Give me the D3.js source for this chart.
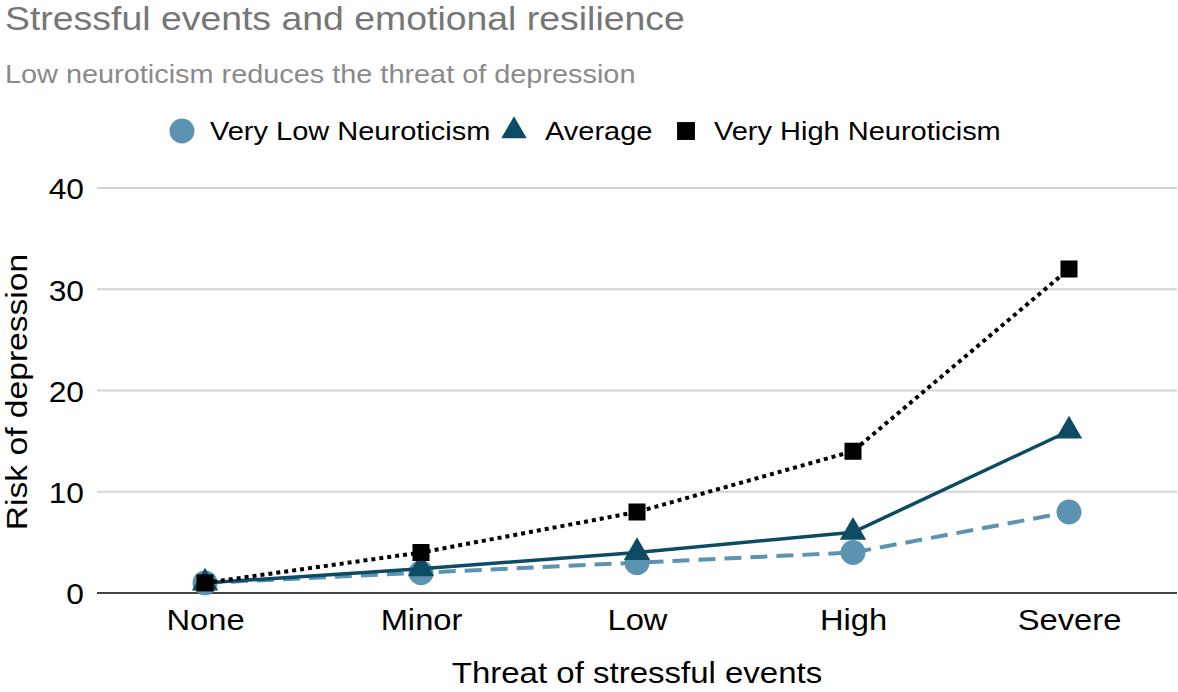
<!DOCTYPE html>
<html><head><meta charset="utf-8">
<script src="https://cdn.jsdelivr.net/npm/d3@7"></script>
<style>body{margin:0;background:#fff}svg{display:block;font-family:"Liberation Sans",Arial,Helvetica,sans-serif}</style>
</head><body><svg id="c" width="1178" height="692"></svg>
<script>
const categories = ["None","Minor","Low","High","Severe"];
const veryLow = [1, 2, 3, 4, 8];
const average = [1, 2.4, 4, 6, 16];
const veryHigh = [1, 4, 8, 14, 32];
const yTicks = [0, 10, 20, 30, 40];
const seriesNames = ["Very Low Neuroticism","Average","Very High Neuroticism"];

const svg = d3.select("#c");
const x = d3.scalePoint().domain(categories).range([97, 1177]).padding(0.5);
const y = d3.scaleLinear().domain([0, 40]).range([593, 188]);

function stretch(sel, f){
  sel.each(function(){
    const w = this.getComputedTextLength();
    d3.select(this).attr("textLength", w*f).attr("lengthAdjust","spacingAndGlyphs");
  });
}

stretch(svg.append("text").attr("x",5).attr("y",30).attr("font-size",34).attr("fill","#767676").text("Stressful events and emotional resilience"), 1.10);
stretch(svg.append("text").attr("x",5).attr("y",83).attr("font-size",26).attr("fill","#8a8a8a").text("Low neuroticism reduces the threat of depression"), 1.11);

// grid
const yAxis = d3.axisLeft(y).tickValues(yTicks).tickSize(0).tickPadding(13);
const ga = svg.append("g").attr("transform","translate(97,0)").call(yAxis);
ga.select(".domain").remove();
ga.selectAll("text").attr("font-size",30).attr("fill","#000").attr("font-family",null).attr("dy","0.36em");
stretch(ga.selectAll("text"), 1.06);
svg.append("g").selectAll("line").data(yTicks.filter(d=>d>0)).join("line")
  .attr("x1",97).attr("x2",1177).attr("y1",d=>y(d)).attr("y2",d=>y(d))
  .attr("stroke","#d3d3d3").attr("stroke-width",2);
svg.append("line").attr("x1",97).attr("x2",1177).attr("y1",y(0)).attr("y2",y(0)).attr("stroke","#444").attr("stroke-width",2);

const xAxis = d3.axisBottom(x).tickSize(0).tickPadding(0);
const gx = svg.append("g").attr("transform","translate(0,593)").call(xAxis);
gx.select(".domain").remove();
gx.selectAll("text").attr("font-size",30).attr("fill","#000").attr("font-family",null).attr("dy",null).attr("y",37);
stretch(gx.selectAll("text"), 1.09);

stretch(svg.append("text").attr("x",637).attr("y",683).attr("text-anchor","middle").attr("font-size",30).text("Threat of stressful events"), 1.10);
stretch(svg.append("text").attr("transform","translate(27,392) rotate(-90)").attr("text-anchor","middle").attr("font-size",30).text("Risk of depression"), 1.12);

const series = [
  {name:seriesNames[0], vals:veryLow, color:"#5b93b1", dash:"17,9", width:4, shape:d3.symbolCircle, size:490},
  {name:seriesNames[1], vals:average, color:"#0d4a63", dash:null, width:3.5, shape:d3.symbolTriangle, size:300},
  {name:seriesNames[2], vals:veryHigh, color:"#000", dash:"4,4", width:4, shape:d3.symbolSquare, size:290}
];
const line = d3.line().x((d,i)=>x(categories[i])).y(d=>y(d));
series.forEach(s=>{
  const g = svg.append("g");
  g.append("path").attr("d",line(s.vals)).attr("fill","none").attr("stroke",s.color)
    .attr("stroke-width",s.width).attr("stroke-dasharray",s.dash);
  g.selectAll("path.m").data(s.vals).join("path").attr("class","m")
    .attr("transform",(d,i)=>`translate(${x(categories[i])},${y(d)})`)
    .attr("d",d3.symbol(s.shape,s.size)).attr("fill",s.color);
});

// legend
const leg = [{sx:182, tx:210},{sx:514, tx:545},{sx:686, tx:714}];
series.forEach((s,i)=>{
  svg.append("path").attr("transform",`translate(${leg[i].sx},131)`).attr("d",d3.symbol(s.shape, i===0?490:(i===1?280:320))).attr("fill",s.color);
  stretch(svg.append("text").attr("x",leg[i].tx).attr("y",140).attr("font-size",26).attr("fill","#000").text(s.name), 1.115);
});
</script></body></html>
